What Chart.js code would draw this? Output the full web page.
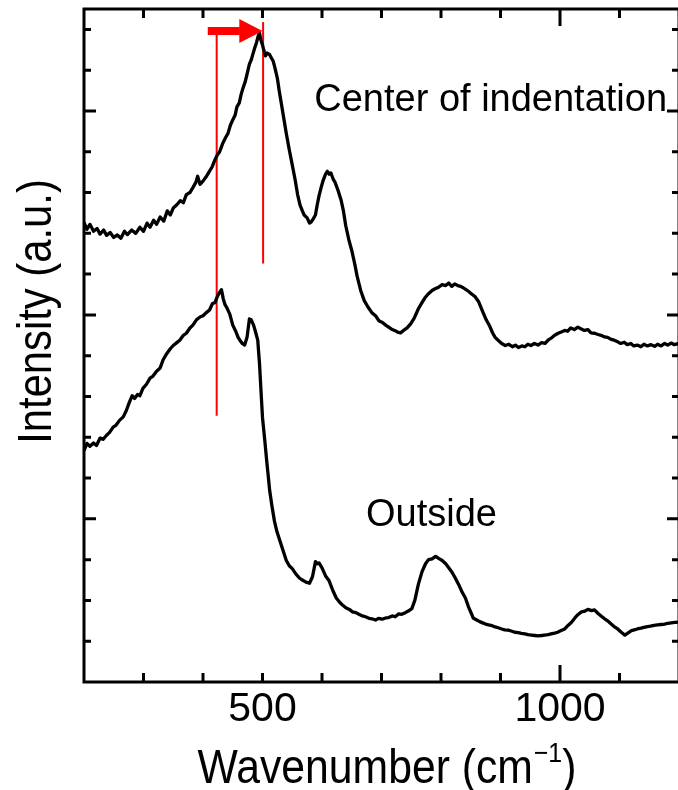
<!DOCTYPE html>
<html><head><meta charset="utf-8">
<script src="https://cdn.jsdelivr.net/npm/chart.js@4/dist/chart.umd.min.js"></script>
<style>
html,body{margin:0;padding:0;background:#fff;overflow:hidden;width:678px;height:790px}
#wrap{position:relative;width:682px;height:790px}
</style>
</head><body><div id="wrap"><canvas id="c" width="682" height="790"></canvas></div>
<script>
// ---- data ----
const centerWavenumber = [200,205,210,216,222,227,233,238,244,250,256,262,268,273,280,287,294,300,306,311,317,322,328,334,340,345,350,356,362,367,372,378,383,388,391,395,400,405,410,415,420,424,428,433,438,442,446,450,454,457,461,464,467,471,474,478,481,484,487,490,493,495,497,500,502,505,508,512,515,518,521,525,528,532,536,540,545,550,555,559,563,567,570,575,579,582,585,589,592,595,599,602,606,609,612,615,619,622,627,632,636,640,645,650,655,659,665,671,677,684,690,696,701,707,712,717,722,727,732,737,743,749,755,762,768,773,779,785,790,796,802,808,813,818,823,828,833,838,842,846,851,857,863,869,876,882,887,891,896,902,908,914,920,925,930,936,941,946,951,957,963,969,975,980,986,991,997,1002,1008,1013,1018,1024,1030,1035,1041,1047,1052,1058,1064,1069,1075,1080,1086,1091,1097,1102,1108,1113,1119,1124,1130,1136,1141,1147,1153,1159,1164,1170,1176,1181,1187,1192,1200];
const centerIntensity = [12.27,12.10,12.22,12.05,12.12,11.98,12.08,11.95,12.02,11.90,11.96,11.88,12.05,11.97,12.08,12.00,12.15,12.05,12.25,12.15,12.32,12.22,12.40,12.30,12.55,12.45,12.62,12.70,12.80,12.75,12.95,13.00,13.12,13.25,13.40,13.20,13.28,13.38,13.50,13.62,13.80,13.92,14.00,14.20,14.35,14.45,14.65,14.78,14.90,15.10,15.20,15.40,15.55,15.72,15.90,16.15,16.25,16.40,16.55,16.68,16.85,16.92,16.75,16.62,16.50,16.35,16.42,16.38,16.30,16.22,16.05,15.80,15.50,15.15,14.80,14.45,14.05,13.68,13.30,12.95,12.70,12.55,12.45,12.38,12.25,12.28,12.35,12.45,12.70,12.92,13.15,13.30,13.45,13.52,13.45,13.48,13.32,13.25,13.05,12.82,12.55,12.18,11.85,11.58,11.25,10.95,10.60,10.35,10.20,10.05,9.98,9.85,9.82,9.75,9.70,9.65,9.62,9.58,9.56,9.62,9.68,9.78,9.92,10.15,10.30,10.42,10.52,10.60,10.64,10.68,10.74,10.72,10.78,10.70,10.76,10.72,10.70,10.66,10.62,10.58,10.52,10.45,10.33,10.12,9.88,9.72,9.55,9.45,9.38,9.30,9.25,9.28,9.22,9.26,9.20,9.24,9.22,9.28,9.25,9.30,9.26,9.32,9.30,9.38,9.44,9.50,9.55,9.58,9.62,9.60,9.68,9.64,9.70,9.66,9.62,9.64,9.56,9.55,9.52,9.50,9.46,9.45,9.40,9.38,9.34,9.30,9.33,9.27,9.30,9.24,9.26,9.22,9.28,9.24,9.27,9.23,9.28,9.24,9.30,9.26,9.31,9.27,9.30];
const outsideWavenumber = [200,205,210,216,221,227,232,238,243,249,254,260,266,271,276,281,285,290,294,299,305,311,316,322,328,333,339,345,350,356,361,367,372,378,383,389,395,400,405,411,416,420,425,428,431,434,437,440,445,450,455,459,462,466,470,474,478,481,485,488,492,495,498,500,504,507,510,512,516,520,524,528,534,540,545,550,556,562,567,573,579,584,589,592,595,600,606,612,618,624,630,635,640,646,651,657,662,668,673,679,684,690,695,701,707,712,718,723,729,734,740,745,751,756,762,768,774,779,785,791,796,802,808,813,819,824,830,835,841,846,851,854,860,865,870,875,880,886,891,896,902,907,913,918,924,930,935,941,946,952,958,963,969,974,980,985,991,996,1002,1008,1013,1019,1025,1030,1036,1042,1047,1053,1058,1064,1069,1075,1080,1086,1091,1097,1103,1109,1114,1120,1125,1130,1136,1141,1147,1152,1158,1164,1170,1176,1181,1187,1193,1200];
const outsideIntensity = [6.67,6.85,6.78,6.86,6.80,6.98,6.95,7.05,7.12,7.25,7.30,7.42,7.50,7.65,7.85,8.02,7.95,8.05,8.02,8.20,8.30,8.45,8.50,8.62,8.70,8.90,9.05,9.17,9.25,9.32,9.38,9.50,9.55,9.68,9.75,9.88,9.95,9.98,10.05,10.12,10.28,10.30,10.48,10.55,10.62,10.40,10.25,10.18,10.02,9.75,9.60,9.45,9.38,9.30,9.26,9.45,9.90,9.88,9.75,9.60,9.38,8.80,8.00,7.48,6.90,6.43,6.00,5.70,5.30,4.95,4.70,4.52,4.25,3.98,3.85,3.78,3.65,3.55,3.50,3.45,3.42,3.58,3.95,3.90,3.92,3.80,3.60,3.48,3.25,3.06,2.95,2.88,2.82,2.78,2.72,2.70,2.66,2.62,2.60,2.56,2.55,2.52,2.56,2.54,2.57,2.58,2.62,2.60,2.67,2.66,2.70,2.74,2.80,3.00,3.40,3.70,3.90,4.00,4.02,4.08,4.03,3.98,3.90,3.80,3.68,3.55,3.38,3.22,3.06,2.85,2.68,2.57,2.52,2.48,2.45,2.42,2.40,2.38,2.35,2.33,2.30,2.28,2.27,2.25,2.22,2.21,2.19,2.18,2.16,2.15,2.14,2.13,2.14,2.15,2.16,2.18,2.20,2.22,2.26,2.30,2.38,2.46,2.57,2.65,2.72,2.74,2.78,2.75,2.77,2.68,2.62,2.55,2.50,2.42,2.36,2.30,2.22,2.15,2.20,2.26,2.28,2.30,2.32,2.34,2.36,2.37,2.39,2.40,2.41,2.42,2.44,2.45,2.46,2.47];

const xTickValues = [200,300,400,500,600,700,800,900,1000,1100,1200];
const xTickLabels = {500: '500', 1000: '1000'};
const xMajorTicks = [1000];
const yTickValues = [2,3,4,5,6,7,8,9,10,11,12,13,14,15,16,17];
const yMajorTicks = [5,10,15];

// red shift marker lines and arrow (data coordinates)
const markerLine1X = [423, 423], markerLine1Y = [7.53, 16.91];
const markerLine2X = [501, 501], markerLine2Y = [11.26, 17.18];
const arrowShaftX = [408, 462], arrowY = 16.96, arrowHeadBaseX = 461, arrowTipX = 500;

const annotationTexts = ['Center of indentation', 'Outside'];
const annotationX = [587, 674];
const annotationY = [15.0, 4.83];

const toXY = (xs, ys) => xs.map((x, i) => ({x: x, y: ys[i]}));

const FONT = '"Liberation Sans", Arial, Helvetica, sans-serif';

const framePlugin = {
  id: 'frame',
  afterDatasetsDraw(chart) {
    const {ctx, chartArea: a, scales: {x, y}} = chart;
    ctx.save();
    ctx.strokeStyle = '#000';
    ctx.lineWidth = 3;
    ctx.lineCap = 'butt';
    ctx.strokeRect(a.left, a.top, a.right - a.left, a.bottom - a.top);
    ctx.beginPath();
    xTickValues.forEach(v => {
      if (v <= x.min || v >= x.max) return;
      const px = x.getPixelForValue(v);
      const len = xMajorTicks.includes(v) ? 17 : 9;
      ctx.moveTo(px, a.bottom); ctx.lineTo(px, a.bottom - len);
      ctx.moveTo(px, a.top); ctx.lineTo(px, a.top + len);
    });
    yTickValues.forEach(v => {
      const py = y.getPixelForValue(v);
      const len = yMajorTicks.includes(v) ? 12 : 7;
      ctx.moveTo(a.left, py); ctx.lineTo(a.left + len, py);
      ctx.moveTo(a.right, py); ctx.lineTo(a.right - len, py);
    });
    ctx.stroke();

    // arrow
    ctx.fillStyle = '#ff0000';
    const ay = y.getPixelForValue(arrowY);
    const s0 = x.getPixelForValue(arrowShaftX[0]);
    const s1 = x.getPixelForValue(arrowShaftX[1]);
    ctx.fillRect(s0, ay - 4, s1 - s0, 8);
    const hb = x.getPixelForValue(arrowHeadBaseX);
    const tip = x.getPixelForValue(arrowTipX);
    ctx.beginPath();
    ctx.moveTo(hb, ay - 12);
    ctx.lineTo(tip, ay);
    ctx.lineTo(hb, ay + 12);
    ctx.closePath();
    ctx.fill();

    // annotations
    ctx.fillStyle = '#000';
    ctx.font = '38px ' + FONT;
    ctx.textAlign = 'left';
    ctx.textBaseline = 'alphabetic';
    annotationTexts.forEach((t, i) => {
      ctx.fillText(t, x.getPixelForValue(annotationX[i]), y.getPixelForValue(annotationY[i]));
    });

    // y axis title
    ctx.save();
    ctx.translate(51, (a.top + a.bottom) / 2 - 34);
    ctx.rotate(-Math.PI / 2);
    ctx.scale(0.87, 1);
    ctx.font = '48px ' + FONT;
    ctx.textAlign = 'center';
    ctx.fillText('Intensity (a.u.)', 0, 0);
    ctx.restore();

    // x axis title with superscript
    ctx.save();
    ctx.font = '48px ' + FONT;
    const p1 = 'Wavenumber (cm';
    const w1 = ctx.measureText(p1).width;
    ctx.font = '28px ' + FONT;
    const p2 = '\u22121';
    const w2 = ctx.measureText(p2).width;
    ctx.font = '48px ' + FONT;
    const p3 = ')';
    const w3 = ctx.measureText(p3).width;
    const sx = 0.89;
    const total = (w1 + w2 + w3) * sx;
    const cx = (a.left + a.right) / 2 + 5;
    ctx.translate(cx - total / 2, 783);
    ctx.scale(sx, 1);
    ctx.textAlign = 'left';
    ctx.fillText(p1, 0, 0);
    ctx.font = '28px ' + FONT;
    ctx.fillText(p2, w1 + 1, -21);
    ctx.font = '48px ' + FONT;
    ctx.fillText(p3, w1 + w2 + 1, 0);
    ctx.restore();

    ctx.restore();
  }
};

new Chart(document.getElementById('c'), {
  type: 'scatter',
  data: {
    datasets: [
      {label: 'Center of indentation', data: toXY(centerWavenumber, centerIntensity), showLine: true, borderColor: '#000', borderWidth: 3.3, pointRadius: 0, tension: 0, borderJoinStyle: 'round'},
      {label: 'Outside', data: toXY(outsideWavenumber, outsideIntensity), showLine: true, borderColor: '#000', borderWidth: 3.3, pointRadius: 0, tension: 0, borderJoinStyle: 'round'},
      {label: 'marker1', data: toXY(markerLine1X, markerLine1Y), showLine: true, borderColor: '#ff0000', borderWidth: 2, pointRadius: 0},
      {label: 'marker2', data: toXY(markerLine2X, markerLine2Y), showLine: true, borderColor: '#ff0000', borderWidth: 2, pointRadius: 0}
    ]
  },
  options: {
    responsive: false,
    animation: false,
    devicePixelRatio: 1,
    layout: {padding: {left: 84, right: 1, top: 9, bottom: 52.8}},
    plugins: {legend: {display: false}, tooltip: {enabled: false}},
    scales: {
      x: {
        type: 'linear', min: 200, max: 1200,
        afterBuildTicks: s => { s.ticks = xTickValues.map(v => ({value: v})); },
        ticks: {
          autoSkip: false, maxRotation: 0, padding: 3, color: '#000',
          font: {family: FONT, size: 41},
          callback: v => xTickLabels[v] || ''
        },
        grid: {display: false, drawTicks: false},
        border: {display: false}
      },
      y: {
        type: 'linear', min: 1, max: 17.5, display: false
      }
    }
  },
  plugins: [framePlugin]
});
</script>
</body></html>
